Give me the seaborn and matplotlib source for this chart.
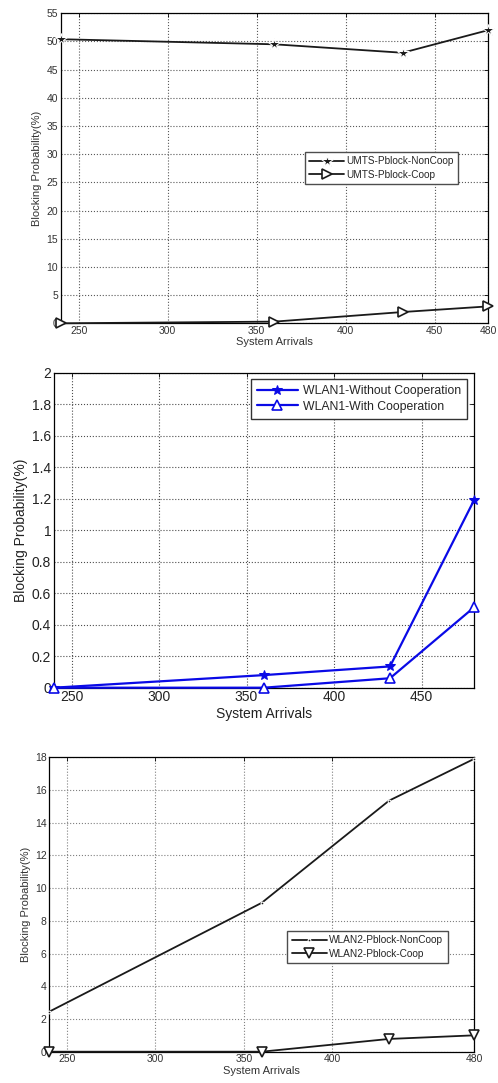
import matplotlib
matplotlib.use("Agg")
import matplotlib.pyplot as plt
import seaborn as sns
import numpy as np

# ---- data ----
arrivals = [240, 360, 432, 480]
umts_noncoop = [50.4, 49.5, 48.0, 52.0]
umts_coop = [0.0, 0.3, 2.0, 3.0]
wlan1_without = [0.0, 0.08, 0.135, 1.19]
wlan1_with = [0.0, 0.0, 0.06, 0.51]
wlan2_noncoop = [2.45, 9.1, 15.35, 17.9]
wlan2_coop = [0.0, 0.0, 0.78, 1.0]

umts_labels = ["UMTS-Pblock-NonCoop", "UMTS-Pblock-Coop"]
wlan1_labels = ["WLAN1-Without Cooperation", "WLAN1-With Cooperation"]
wlan2_labels = ["WLAN2-Pblock-NonCoop", "WLAN2-Pblock-Coop"]
xlabel = "System Arrivals"
ylabel = "Blocking Probability(%)"

sns.set_style("white")
plt.rcParams['font.family'] = ['Liberation Sans', 'DejaVu Sans']

fig = plt.figure(figsize=(4.98, 10.83), dpi=100)
W, H = 498, 1083

def add_ax(l, t, r, b):
    return fig.add_axes([l / W, 1 - b / H, (r - l) / W, (b - t) / H])

def style(ax, fs, tcolor, gcolor):
    for s in ax.spines.values():
        s.set_visible(True)
        s.set_color('black')
        s.set_linewidth(0.9)
    ax.tick_params(direction='in', top=True, right=True, length=3, width=0.6,
                   labelsize=fs, colors='black', labelcolor=tcolor, pad=2)
    ax.grid(True, linestyle=':', color=gcolor, linewidth=0.8)
    ax.set_axisbelow(True)

# ---- panel 1: UMTS ----
ax1 = add_ax(61, 13.3, 488, 323.3)
c1 = '#1a1a1a'
sns.lineplot(x=arrivals, y=umts_noncoop, ax=ax1, color=c1, marker='*', markersize=9,
             linewidth=1.3, label=umts_labels[0], legend=False, clip_on=False, zorder=5)
sns.lineplot(x=arrivals, y=umts_coop, ax=ax1, color=c1, marker='>', markersize=6.5,
             mfc='white', mec=c1, mew=1.2, linewidth=1.3, label=umts_labels[1], legend=False,
             clip_on=False, zorder=5)
ax1.set_xlim(240, 480)
ax1.set_ylim(0, 55)
ax1.set_xticks([250, 300, 350, 400, 450, 480])
ax1.set_yticks(np.arange(0, 56, 5))
style(ax1, 7.5, '#333333', '0.35')
ax1.set_xlabel(xlabel, fontsize=8, color='#333333', labelpad=1)
ax1.set_ylabel(ylabel, fontsize=8, color='#333333', labelpad=3)
ax1.legend(loc='upper left', bbox_to_anchor=(0.571, 0.5535), fontsize=7.2, frameon=True,
           fancybox=False, edgecolor='0.3', framealpha=1, handlelength=3.5,
           borderpad=0.45, labelspacing=0.35, handletextpad=0.2, borderaxespad=0)

# ---- panel 2: WLAN1 ----
ax2 = add_ax(54, 372.7, 474, 687.7)
c2 = '#0a0ae6'
sns.lineplot(x=arrivals, y=wlan1_without, ax=ax2, color=c2, marker='*', markersize=7,
             mec=c2, linewidth=1.6, label=wlan1_labels[0], legend=False, clip_on=False, zorder=5)
sns.lineplot(x=arrivals, y=wlan1_with, ax=ax2, color=c2, marker='^', markersize=6.5,
             mfc='white', mec=c2, mew=1.2, linewidth=1.6, label=wlan1_labels[1], legend=False,
             clip_on=False, zorder=5)
ax2.set_xlim(240, 480)
ax2.set_ylim(0, 2)
ax2.set_xticks([250, 300, 350, 400, 450])
ax2.set_yticks(np.arange(0, 2.01, 0.2))
ax2.set_yticklabels(['0', '0.2', '0.4', '0.6', '0.8', '1', '1.2', '1.4', '1.6', '1.8', '2'])
style(ax2, 10, '#222222', '0.3')
ax2.set_xlabel(xlabel, fontsize=10, color='#222222', labelpad=1.5)
ax2.set_ylabel(ylabel, fontsize=10, color='#222222', labelpad=3)
ax2.legend(loc='upper left', bbox_to_anchor=(0.468, 0.98), fontsize=8.8, frameon=True,
           fancybox=False, edgecolor='0.2', framealpha=1, handlelength=3.4,
           borderpad=0.5, labelspacing=0.3, handletextpad=0.35, borderaxespad=0)

# ---- panel 3: WLAN2 ----
ax3 = add_ax(49.3, 757.3, 474, 1051.7)
c3 = '#1a1a1a'
sns.lineplot(x=arrivals, y=wlan2_noncoop, ax=ax3, color=c3, marker='.', markersize=4,
             linewidth=1.3, label=wlan2_labels[0], legend=False, clip_on=False, zorder=5)
sns.lineplot(x=arrivals, y=wlan2_coop, ax=ax3, color=c3, marker='v', markersize=6.5,
             mfc='white', mec=c3, mew=1.2, linewidth=1.3, label=wlan2_labels[1], legend=False,
             clip_on=False, zorder=5)
ax3.set_xlim(240, 480)
ax3.set_ylim(0, 18)
ax3.set_xticks([250, 300, 350, 400, 480])
ax3.set_yticks(np.arange(0, 19, 2))
style(ax3, 7.5, '#333333', '0.5')
ax3.set_xlabel(xlabel, fontsize=8, color='#333333', labelpad=1)
ax3.set_ylabel(ylabel, fontsize=8, color='#333333', labelpad=3)
ax3.legend(loc='upper left', bbox_to_anchor=(0.560, 0.411), fontsize=7.3, frameon=True,
           fancybox=False, edgecolor='0.3', framealpha=1, handlelength=3.5,
           borderpad=0.45, labelspacing=0.35, handletextpad=0.2, borderaxespad=0)

fig.savefig("out.png", dpi=100, facecolor='white')
